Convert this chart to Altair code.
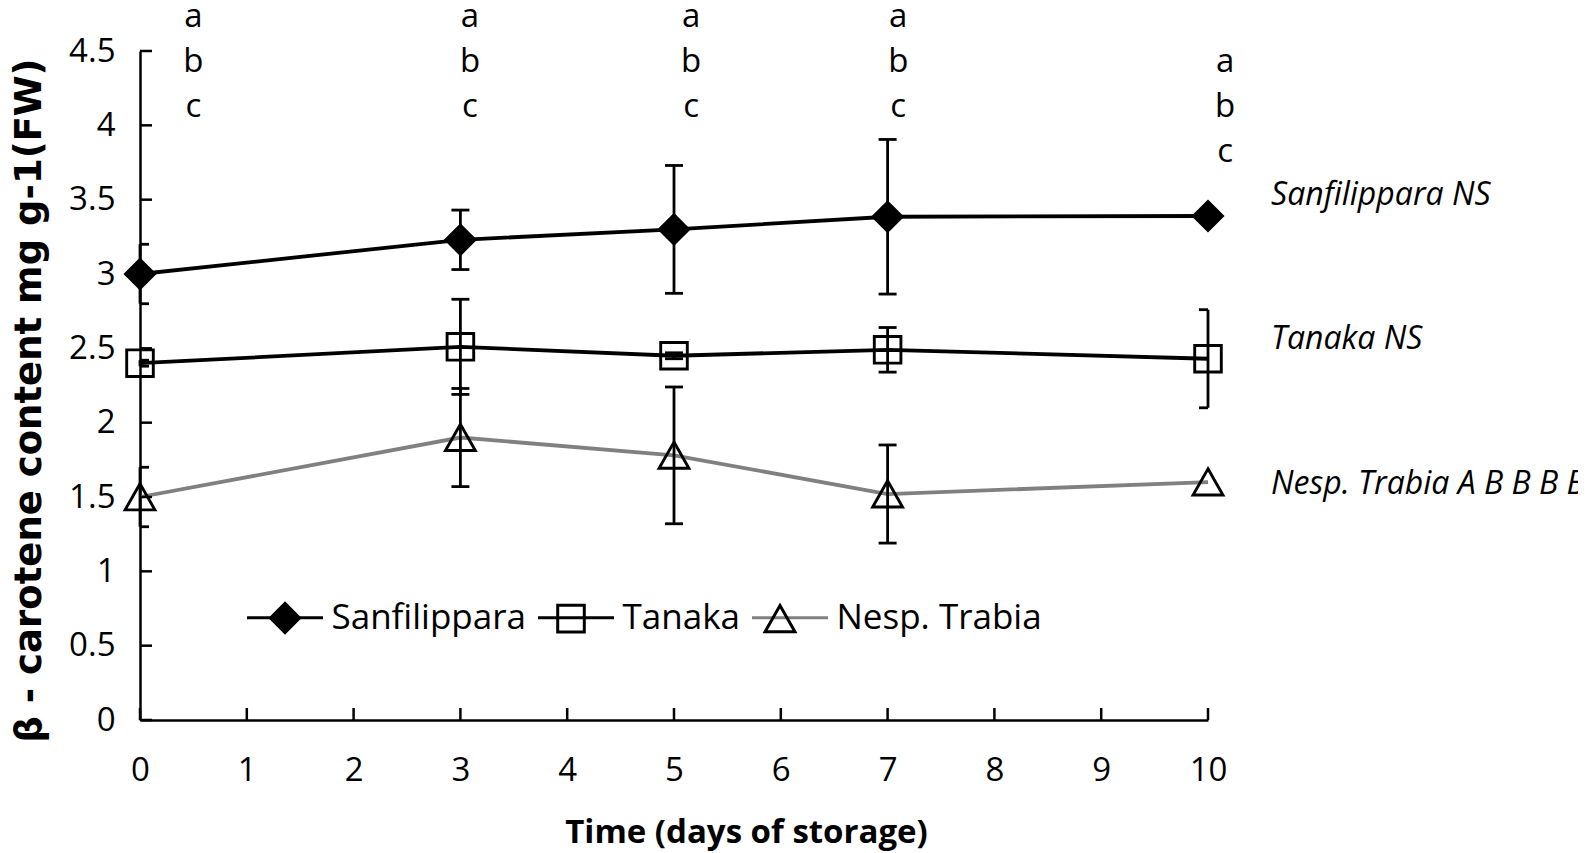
import altair as alt
import pandas as pd

# ---------------- data ----------------
days = [0, 3, 5, 7, 10]
series_names = ["Sanfilippara", "Tanaka", "Nesp. Trabia"]

sanfilippara = [3.00, 3.23, 3.30, 3.385, 3.39]
sanfilippara_err = [0.20, 0.20, 0.43, 0.52, 0.00]
tanaka = [2.40, 2.51, 2.45, 2.49, 2.43]
tanaka_err = [0.02, 0.32, 0.02, 0.15, 0.33]
nesp_trabia = [1.50, 1.90, 1.78, 1.52, 1.60]
nesp_trabia_err = [0.20, 0.33, 0.46, 0.33, 0.00]

x_tick_values = [0, 1, 2, 3, 4, 5, 6, 7, 8, 9, 10]
y_tick_values = [0, 0.5, 1, 1.5, 2, 2.5, 3, 3.5, 4, 4.5]

letter_days = [0.50, 3.09, 5.16, 7.10, 10.16]
letter_levels = [4.66, 4.66, 4.66, 4.66, 4.36]
letter_text = ["a\nb\nc", "a\nb\nc", "a\nb\nc", "a\nb\nc", "a\nb\nc"]

note_texts = ["Sanfilippara NS", "Tanaka NS", "Nesp. Trabia A B B B B"]
note_days = [10.59, 10.59, 10.59]
note_levels = [3.53, 2.56, 1.59]

# ---------------- styles ----------------
line_colors = ["#000000", "#000000", "#808080"]
marker_fills = ["#000000", "transparent", "transparent"]
marker_strokes = ["#000000", "#000000", "#000000"]
marker_paths = [
    "M-0.382,0L0,-0.382L0.382,0L0,0.382Z",
    "M-0.35,-0.35L0.35,-0.35L0.35,0.35L-0.35,0.35Z",
    "M0,-0.35L0.393,0.34L-0.393,0.34Z",
]
FONT = "Open Sans"
SYM = 5776

rows = []
for name, vals, errs in zip(series_names,
                            [sanfilippara, tanaka, nesp_trabia],
                            [sanfilippara_err, tanaka_err, nesp_trabia_err]):
    for d, v, e in zip(days, vals, errs):
        rows.append({"series": name, "marker": name, "day": d, "value": v,
                     "err": e, "lo": v - e, "hi": v + e})
df = pd.DataFrame(rows)

xs = alt.Scale(domain=[0, 10], nice=False, zero=False)
ys = alt.Scale(domain=[0, 4.5], nice=False)

X_TITLE = "Time (days of storage)"
Y_TITLE = "β - carotene content mg g-1(FW)"
x_axis = alt.Axis(values=x_tick_values, format="d", title=X_TITLE)
y_axis = alt.Axis(values=y_tick_values, format="~g", title=Y_TITLE)

legend_common = dict(orient="none", legendX=105.5, legendY=527, direction="horizontal",
                     title=None, labelFont=FONT, labelFontSize=35, labelColor="black",
                     labelLimit=600, symbolSize=SYM, symbolStrokeWidth=3, labelOffset=7,
                     columnPadding=5, padding=0, offset=0)


def xe(field=None, datum=None):
    if datum is not None:
        return alt.X(datum=datum, type="quantitative", scale=xs, axis=x_axis)
    return alt.X(field, type="quantitative", scale=xs, axis=x_axis)


def ye(field=None, datum=None):
    if datum is not None:
        return alt.Y(datum=datum, type="quantitative", scale=ys, axis=y_axis)
    return alt.Y(field, type="quantitative", scale=ys, axis=y_axis)


base = alt.Chart(df)

lines = base.mark_line(strokeWidth=3.8).encode(
    x=xe("day"),
    y=ye("value"),
    color=alt.Color("series:N", sort=series_names, scale=alt.Scale(range=line_colors),
                    legend=alt.Legend(**legend_common)),
)

err_df = base.transform_filter("datum.err > 0")
err_rules = err_df.mark_rule(color="black", strokeWidth=2.8).encode(
    x=xe("day"),
    y=ye("lo"),
    y2="hi:Q",
)
err_caps = err_df.transform_fold(["lo", "hi"], as_=["end", "cap"]).mark_tick(
    orient="horizontal", size=18, thickness=2.8, color="black", opacity=1, clip=True
).encode(
    x=xe("day"),
    y=ye("cap"),
)

marker_legend = alt.Legend(labelOpacity=0, **legend_common)
markers = base.mark_point(size=SYM, strokeWidth=2.9, opacity=1).encode(
    x=xe("day"),
    y=ye("value"),
    shape=alt.Shape("marker:N", scale=alt.Scale(domain=series_names, range=marker_paths),
                    legend=marker_legend),
    fill=alt.Fill("marker:N", scale=alt.Scale(domain=series_names, range=marker_fills),
                  legend=marker_legend),
    stroke=alt.Stroke("marker:N", scale=alt.Scale(domain=series_names, range=marker_strokes),
                      legend=marker_legend),
)

y_ticks = alt.Chart(pd.DataFrame({"tick": y_tick_values})).mark_tick(
    orient="horizontal", size=12, thickness=2.5, xOffset=6, color="black", opacity=1
).encode(
    x=xe(datum=0),
    y=ye("tick"),
)
x_ticks = alt.Chart(pd.DataFrame({"tick": x_tick_values})).mark_tick(
    orient="vertical", size=12, thickness=2.5, yOffset=-6, color="black", opacity=1
).encode(
    x=xe("tick"),
    y=ye(datum=0),
)

letters = alt.Chart(pd.DataFrame({"day": letter_days, "level": letter_levels,
                                  "txt": letter_text})).mark_text(
    font=FONT, fontSize=33, color="black", align="center", baseline="alphabetic",
    lineBreak="\n", lineHeight=45
).encode(
    x=xe("day"),
    y=ye("level"),
    text="txt:N",
)

notes = alt.Chart(pd.DataFrame({"day": note_days, "level": note_levels,
                                "txt": note_texts})).mark_text(
    font=FONT, fontSize=32, fontStyle="italic", color="black", align="left",
    baseline="middle"
).encode(
    x=xe("day"),
    y=ye("level"),
    text="txt:N",
)

chart = alt.layer(lines, err_rules, err_caps, markers, y_ticks, x_ticks, letters, notes).properties(
    width=1068, height=669,
    autosize=alt.AutoSizeParams(type="none"),
    padding={"left": 132, "top": 43, "right": 370, "bottom": 133},
).configure_view(
    stroke=None
).configure_axisX(
    grid=False, ticks=False, tickSize=0,
    labelFont=FONT, labelFontSize=33, labelColor="black", labelPadding=34,
    labelFlush=False, domainColor="black", domainWidth=2.5,
    titleFont=FONT, titleFontSize=33, titleFontWeight="bold", titleColor="black",
    titleX=606, titleY=122, titleBaseline="alphabetic", titleAlign="center",
    titleAnchor="start",
).configure_axisY(
    grid=False, ticks=False, tickSize=0,
    labelFont=FONT, labelFontSize=33, labelColor="black", labelPadding=25,
    labelFlush=False, domainColor="black", domainWidth=2.5,
    titleFont="DejaVu Sans", titleFontSize=37, titleFontWeight="bold", titleColor="black",
    titleAngle=270, titleX=-100, titleY=349, titleBaseline="alphabetic",
    titleAlign="center", titleAnchor="start",
)

chart.save("out.html", embed_options={"renderer": "svg", "actions": False})
